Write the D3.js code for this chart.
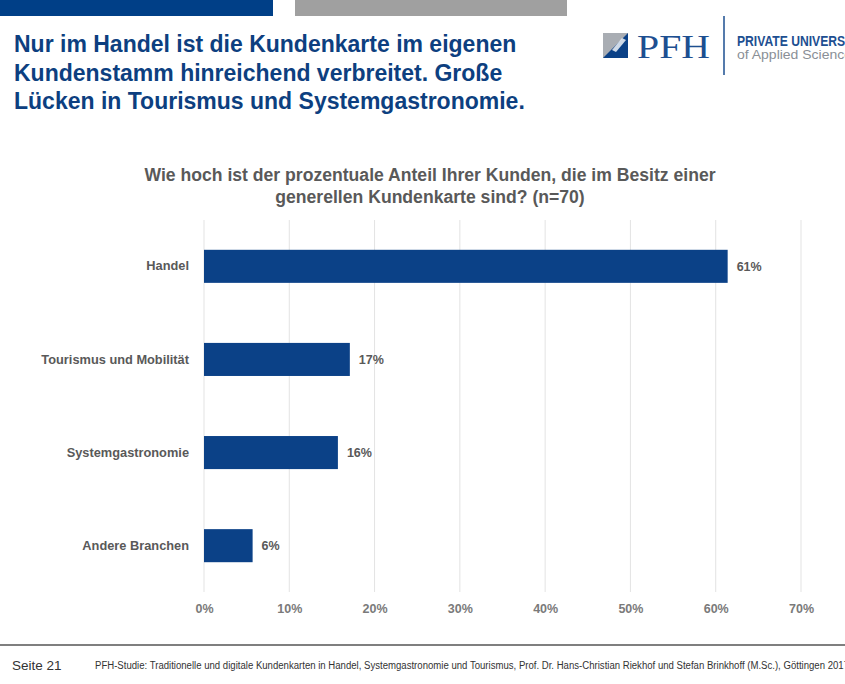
<!DOCTYPE html>
<html>
<head>
<meta charset="utf-8">
<script src="https://cdn.jsdelivr.net/npm/d3@7"></script>
<style>
  body { margin: 0; background: #fff; }
  svg { display: block; font-family: "Liberation Sans", Arial, sans-serif; }
</style>
</head>
<body>
<script>
// data
var categories = ["Handel", "Tourismus und Mobilität", "Systemgastronomie", "Andere Branchen"];
var shares = [61.4, 17.1, 15.7, 5.7];
var xTicks = [0, 10, 20, 30, 40, 50, 60, 70];

var headline = [
  "Nur im Handel ist die Kundenkarte im eigenen",
  "Kundenstamm hinreichend verbreitet. Große",
  "Lücken in Tourismus und Systemgastronomie."
];
var question = [
  "Wie hoch ist der prozentuale Anteil Ihrer Kunden, die im Besitz einer",
  "generellen Kundenkarte sind? (n=70)"
];
var footerPage = "Seite 21";
var footerSource = "PFH-Studie: Traditionelle und digitale Kundenkarten in Handel, Systemgastronomie und Tourismus, Prof. Dr. Hans-Christian Riekhof und Stefan Brinkhoff (M.Sc.), Göttingen 2017";

var W = 845, H = 684;
var blue = "#0b4187", grey = "#595959";

var svg = d3.select("body").append("svg")
    .attr("width", W)
    .attr("height", H);

// top colour strips
svg.append("rect").attr("x", 0).attr("y", 0).attr("width", 273).attr("height", 16).attr("fill", "#003f87");
svg.append("rect").attr("x", 295).attr("y", 0).attr("width", 272).attr("height", 16).attr("fill", "#a0a0a0");

// headline
svg.append("g").selectAll("text")
    .data(headline)
    .enter().append("text")
    .attr("x", 14)
    .attr("y", function(d, i) { return 52 + i * 28.5; })
    .attr("fill", "#0d3f80")
    .style("font-size", "23px")
    .style("font-weight", "bold")
    .text(function(d) { return d; });

// logo
var logo = svg.append("g");
logo.append("rect").attr("x", 603).attr("y", 33).attr("width", 25).attr("height", 25).attr("fill", "#a9adb3");
logo.append("path").attr("d", "M603,58 L628,33 L628,58 Z").attr("fill", blue);
logo.append("path").attr("d", "M612,50 L622,38 L626,40 L616,52 Z").attr("fill", "#ffffff").attr("opacity", 0.8);
logo.append("text").attr("x", 637).attr("y", 58)
    .attr("fill", "#1d4f91")
    .attr("textLength", 73)
    .attr("lengthAdjust", "spacingAndGlyphs")
    .style("font-family", "'Liberation Serif', 'DejaVu Serif', serif")
    .style("font-size", "34px")
    .text("PFH");
logo.append("line").attr("x1", 724).attr("x2", 724).attr("y1", 16).attr("y2", 75)
    .attr("stroke", "#1d4f91").attr("stroke-width", 1.5);
logo.append("text").attr("x", 737).attr("y", 46)
    .attr("fill", "#1d4f91")
    .attr("textLength", 127)
    .attr("lengthAdjust", "spacingAndGlyphs")
    .style("font-size", "14px").style("font-weight", "bold")
    .text("PRIVATE UNIVERSITY");
logo.append("text").attr("x", 737).attr("y", 59)
    .attr("fill", "#8a8f96")
    .attr("textLength", 122)
    .attr("lengthAdjust", "spacingAndGlyphs")
    .style("font-size", "13px")
    .text("of Applied Sciences");

// chart question
svg.append("g").selectAll("text")
    .data(question)
    .enter().append("text")
    .attr("x", 430)
    .attr("y", function(d, i) { return 181 + i * 22; })
    .attr("text-anchor", "middle")
    .attr("fill", grey)
    .style("font-size", "17.6px")
    .style("font-weight", "bold")
    .text(function(d) { return d; });

// scales
var x = d3.scaleLinear().domain([0, 70]).range([204, 801]);
var y = d3.scaleBand().domain(categories).range([220, 592]).paddingInner(0.645).paddingOuter(0.32);

// gridlines
svg.append("g").selectAll("line")
    .data(xTicks)
    .enter().append("line")
    .attr("x1", function(d) { return x(d); })
    .attr("x2", function(d) { return x(d); })
    .attr("y1", 220)
    .attr("y2", 592)
    .attr("stroke", "#e3e3e3")
    .attr("stroke-width", 1);

// x axis
var xAxis = svg.append("g")
    .attr("transform", "translate(0,592)")
    .call(d3.axisBottom(x).tickValues(xTicks).tickSize(0).tickPadding(12).tickFormat(function(d) { return d + "%"; }));
xAxis.select(".domain").remove();
xAxis.selectAll("text")
    .attr("fill", "#7a7a7a")
    .style("font-family", "'Liberation Sans', Arial, sans-serif")
    .style("font-size", "12.5px")
    .style("font-weight", "bold");

// y axis
var yAxis = svg.append("g")
    .attr("transform", "translate(200,0)")
    .call(d3.axisLeft(y).tickSize(0).tickPadding(11));
yAxis.select(".domain").remove();
yAxis.selectAll("text")
    .attr("fill", grey)
    .style("font-family", "'Liberation Sans', Arial, sans-serif")
    .style("font-size", "12.8px")
    .style("font-weight", "bold");

// bars
var rows = categories.map(function(c, i) { return {cat: c, val: shares[i]}; });
svg.append("g").selectAll("rect")
    .data(rows)
    .enter().append("rect")
    .attr("x", x(0))
    .attr("y", function(d) { return y(d.cat); })
    .attr("width", function(d) { return x(d.val) - x(0); })
    .attr("height", y.bandwidth())
    .attr("fill", blue);

// value labels
svg.append("g").selectAll("text")
    .data(rows)
    .enter().append("text")
    .attr("x", function(d) { return x(d.val) + 9; })
    .attr("y", function(d) { return y(d.cat) + y.bandwidth() / 2; })
    .attr("dy", "0.35em")
    .attr("fill", grey)
    .style("font-size", "12.5px")
    .style("font-weight", "bold")
    .text(function(d) { return d3.format(".0f")(d.val) + "%"; });

// footer
svg.append("line").attr("x1", 0).attr("x2", W).attr("y1", 645).attr("y2", 645)
    .attr("stroke", "#7f7f7f").attr("stroke-width", 2);
svg.append("text").attr("x", 12).attr("y", 670)
    .attr("fill", "#333")
    .style("font-size", "13.5px")
    .text(footerPage);
svg.append("text").attr("x", 95).attr("y", 669)
    .attr("fill", "#333")
    .attr("textLength", 754)
    .attr("lengthAdjust", "spacingAndGlyphs")
    .style("font-size", "10px")
    .text(footerSource);
</script>
</body>
</html>
